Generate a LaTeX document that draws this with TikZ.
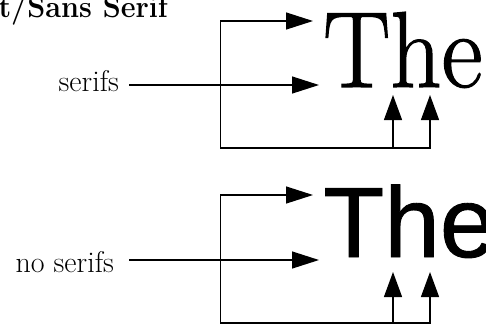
\documentclass[tikz,border=0pt]{standalone}
\usepackage{fontspec}
\newfontfamily\helv[FakeBold=0.9]{Liberation Sans}
\newfontfamily\bigserif[FakeBold=1.2]{Latin Modern Roman}
\usetikzlibrary{arrows.meta}
\tikzset{
  wire/.style={line width=1.3pt, line cap=rect},
  pointer/.style={wire, -{Triangle[length=27pt,width=17pt]}},
  riser/.style={wire, -{Triangle[length=25pt,width=18pt]}},
  lbl/.style={inner sep=0pt, font=\fontsize{30}{32}\selectfont},
  bigword/.style={inner sep=0pt, anchor=base west}
}
\begin{document}
\begin{tikzpicture}[x=1pt,y=-1pt]
\useasboundingbox (0,0) rectangle (486,325);

% heading
\node[inner sep=0pt, anchor=base east, font=\fontsize{31}{33}\selectfont\bfseries] (title) at (168,17) {\scalebox{0.93}[1]{t/Sans Serif}};

% ---- serif example ----
\node[bigword] (serifword) at (323,87) {\bigserif\fontsize{108}{110}\selectfont\scalebox{0.93}[1]{The}};
\node[lbl, anchor=base east] (serifs) at (119,91) {serifs};
\coordinate (a1) at (220.5,21);
\coordinate (b1) at (220.5,148);
\coordinate (t1) at (313,21);
\coordinate (m1) at (319,85);
\coordinate (h1) at (393,148);
\coordinate (e1) at (430,148);
\draw[wire] (a1) -- (b1) -- (e1);
\draw[pointer] (a1) -- (t1);
\draw[pointer] ([xshift=11pt]serifs.east |- m1) -- (m1);
\draw[riser] (h1) -- (h1 |- 0,95);
\draw[riser] (e1) -- (e1 |- 0,95);

% ---- sans serif example ----
\node[bigword] (sansword) at (323,257) {\helv\fontsize{100}{102}\selectfont The};
\node[lbl, anchor=base east] (noserifs) at (114,272) {no serifs};
\coordinate (a2) at (220.5,195);
\coordinate (b2) at (220.5,323);
\coordinate (t2) at (313,195);
\coordinate (m2) at (319,260);
\coordinate (h2) at (393,323);
\coordinate (e2) at (430,323);
\draw[wire] (a2) -- (b2) -- (e2);
\draw[pointer] (a2) -- (t2);
\draw[pointer] ([xshift=16pt]noserifs.east |- m2) -- (m2);
\draw[riser] (h2) -- (h2 |- 0,272);
\draw[riser] (e2) -- (e2 |- 0,272);
\end{tikzpicture}
\end{document}
